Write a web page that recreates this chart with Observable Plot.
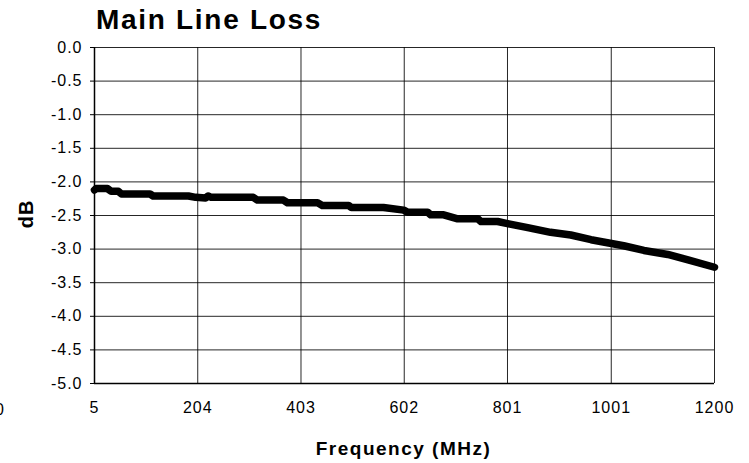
<!DOCTYPE html>
<html>
<head>
<meta charset="utf-8">
<script src="https://cdn.jsdelivr.net/npm/d3@7"></script>
<script src="https://cdn.jsdelivr.net/npm/@observablehq/plot@0.6"></script>
<style>
  html, body { margin: 0; padding: 0; background: #fff; }
  #chart svg { display: block; }
</style>
</head>
<body>
<div id="chart"></div>
<script>
const freqs = [5, 8, 30, 37, 51, 57, 112, 118, 186, 200, 219, 224, 230, 311, 319, 369, 377, 435, 444, 495, 500, 562, 601, 608, 624, 647, 653, 678, 705, 744, 750, 782, 801, 840, 884, 923, 962, 1004, 1025, 1064, 1110, 1149, 1200];
const lossDb = [-2.12, -2.10, -2.10, -2.14, -2.14, -2.18, -2.18, -2.21, -2.21, -2.23, -2.24, -2.21, -2.23, -2.23, -2.27, -2.27, -2.31, -2.31, -2.35, -2.35, -2.38, -2.38, -2.42, -2.45, -2.45, -2.45, -2.49, -2.49, -2.55, -2.55, -2.59, -2.59, -2.62, -2.68, -2.75, -2.79, -2.86, -2.92, -2.95, -3.02, -3.08, -3.16, -3.27];
const xTicks = [5, 204, 403, 602, 801, 1001, 1200];
const yTicks = [0, -0.5, -1.0, -1.5, -2.0, -2.5, -3.0, -3.5, -4.0, -4.5, -5.0];
const titleText = "Main Line Loss";
const xLabel = "Frequency (MHz)";
const yLabel = "dB";

const data = freqs.map((f, i) => ({ f, v: lossDb[i] }));

const svg = Plot.plot({
  width: 749,
  height: 463,
  marginTop: 47,
  marginLeft: 94,
  marginRight: 35,
  marginBottom: 80,
  style: { fontFamily: "'Liberation Sans', Arial, sans-serif", background: "#fff", color: "#000" },
  x: { domain: [5, 1200] },
  y: { domain: [-5, 0] },
  marks: [
    Plot.gridX(xTicks, { stroke: "#000", strokeOpacity: 0.85, strokeWidth: 1 }),
    Plot.gridY(yTicks, { stroke: "#000", strokeOpacity: 0.85, strokeWidth: 1 }),
    Plot.ruleY([-5], { stroke: "#000", strokeWidth: 1.5 }),
    Plot.ruleX([5], { stroke: "#000", strokeWidth: 1.5 }),
    Plot.line(data, { x: "f", y: "v", stroke: "#000", strokeWidth: 7.5, strokeLinecap: "round", strokeLinejoin: "round" }),
    Plot.axisX(xTicks, { tickSize: 0, tickPadding: 18, fontSize: 16, label: null, tickFormat: d => String(d) }),
    Plot.axisY(yTicks, { tickSize: 4, tickPadding: 8, fontSize: 16, label: null, tickFormat: d => d.toFixed(1), stroke: "#000" })
  ]
});

const s = d3.select(svg);
s.selectAll('[aria-label="x-axis tick label"] text, [aria-label="y-axis tick label"] text').style("letter-spacing", "1px");

s.append("text")
  .attr("x", 96).attr("y", 29)
  .attr("text-anchor", "start")
  .attr("font-size", 28).attr("font-weight", "bold")
  .style("letter-spacing", "1.7px")
  .attr("fill", "#000")
  .text(titleText);

s.append("text")
  .attr("transform", "translate(33,214) rotate(-90)")
  .attr("text-anchor", "middle")
  .attr("font-size", 20).attr("font-weight", "bold")
  .style("letter-spacing", "1px")
  .attr("fill", "#000")
  .text(yLabel);

s.append("text")
  .attr("x", 403.5).attr("y", 455)
  .attr("text-anchor", "middle")
  .attr("font-size", 19).attr("font-weight", "bold")
  .style("letter-spacing", "1.5px")
  .attr("fill", "#000")
  .text(xLabel);

s.append("text")
  .attr("x", -5).attr("y", 415)
  .attr("text-anchor", "start")
  .attr("font-size", 16)
  .attr("fill", "#000")
  .text("0");

document.getElementById("chart").appendChild(svg);
</script>
</body>
</html>
